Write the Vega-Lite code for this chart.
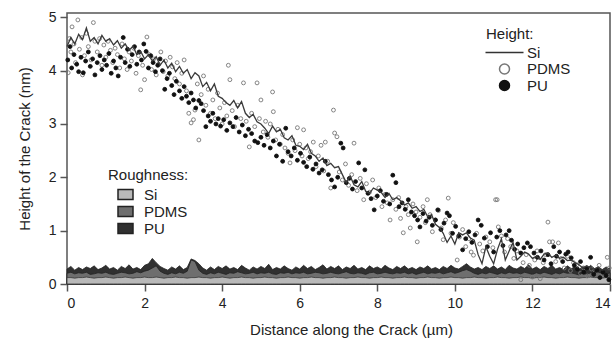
{
"$schema":"https://vega.github.io/schema/vega-lite/v6.json",
"width":543,"height":271,
"autosize":{"type":"none"},
"padding":{"left":67,"top":13,"right":4,"bottom":55},
"background":"white",
"config":{"font":"Liberation Sans","view":{"stroke":"#555","strokeWidth":1.5},
"axis":{"domain":false,"grid":false,"tickColor":"#555","tickWidth":1.5,"tickSize":7,"labelFont":"Liberation Sans","labelFontSize":14,"labelColor":"#222","titleFont":"Liberation Sans","titleFontSize":15,"titleFontWeight":"normal","titleColor":"#222"},
"legend":{"labelFont":"Liberation Sans","labelFontSize":15,"labelColor":"#222","titleFont":"Liberation Sans","titleFontSize":15,"titleFontWeight":"normal","titleColor":"#222","padding":0}},
"datasets":{
"rough":[
{"x":0.0,"rSi":0.12,"rPDMS":0.20,"rPU":0.28},{"x":0.1,"rSi":0.12,"rPDMS":0.22,"rPU":0.33},{"x":0.2,"rSi":0.11,"rPDMS":0.19,"rPU":0.26},{"x":0.3,"rSi":0.12,"rPDMS":0.21,"rPU":0.31},{"x":0.4,"rSi":0.12,"rPDMS":0.20,"rPU":0.27},{"x":0.5,"rSi":0.13,"rPDMS":0.22,"rPU":0.32},{"x":0.6,"rSi":0.12,"rPDMS":0.18,"rPU":0.29},{"x":0.7,"rSi":0.11,"rPDMS":0.19,"rPU":0.34},{"x":0.8,"rSi":0.12,"rPDMS":0.21,"rPU":0.27},{"x":0.9,"rSi":0.12,"rPDMS":0.20,"rPU":0.30},
{"x":1.0,"rSi":0.13,"rPDMS":0.22,"rPU":0.35},{"x":1.1,"rSi":0.12,"rPDMS":0.19,"rPU":0.28},{"x":1.2,"rSi":0.11,"rPDMS":0.18,"rPU":0.31},{"x":1.3,"rSi":0.12,"rPDMS":0.20,"rPU":0.26},{"x":1.4,"rSi":0.12,"rPDMS":0.22,"rPU":0.33},{"x":1.5,"rSi":0.13,"rPDMS":0.21,"rPU":0.29},{"x":1.6,"rSi":0.12,"rPDMS":0.19,"rPU":0.36},{"x":1.7,"rSi":0.11,"rPDMS":0.20,"rPU":0.28},{"x":1.8,"rSi":0.12,"rPDMS":0.23,"rPU":0.31},{"x":1.9,"rSi":0.12,"rPDMS":0.21,"rPU":0.27},
{"x":2.0,"rSi":0.13,"rPDMS":0.24,"rPU":0.35},{"x":2.1,"rSi":0.12,"rPDMS":0.26,"rPU":0.38},{"x":2.2,"rSi":0.12,"rPDMS":0.30,"rPU":0.48},{"x":2.3,"rSi":0.13,"rPDMS":0.34,"rPU":0.40},{"x":2.4,"rSi":0.12,"rPDMS":0.24,"rPU":0.33},{"x":2.5,"rSi":0.11,"rPDMS":0.20,"rPU":0.29},{"x":2.6,"rSi":0.12,"rPDMS":0.18,"rPU":0.26},{"x":2.7,"rSi":0.12,"rPDMS":0.21,"rPU":0.32},{"x":2.8,"rSi":0.13,"rPDMS":0.19,"rPU":0.28},{"x":2.9,"rSi":0.12,"rPDMS":0.22,"rPU":0.34},
{"x":3.0,"rSi":0.12,"rPDMS":0.20,"rPU":0.27},{"x":3.1,"rSi":0.11,"rPDMS":0.24,"rPU":0.31},{"x":3.2,"rSi":0.12,"rPDMS":0.45,"rPU":0.47},{"x":3.3,"rSi":0.12,"rPDMS":0.42,"rPU":0.44},{"x":3.4,"rSi":0.13,"rPDMS":0.26,"rPU":0.38},{"x":3.5,"rSi":0.12,"rPDMS":0.20,"rPU":0.30},{"x":3.6,"rSi":0.12,"rPDMS":0.18,"rPU":0.26},{"x":3.7,"rSi":0.11,"rPDMS":0.21,"rPU":0.32},{"x":3.8,"rSi":0.12,"rPDMS":0.19,"rPU":0.27},{"x":3.9,"rSi":0.12,"rPDMS":0.22,"rPU":0.33},
{"x":4.0,"rSi":0.13,"rPDMS":0.20,"rPU":0.29},{"x":4.1,"rSi":0.12,"rPDMS":0.18,"rPU":0.34},{"x":4.2,"rSi":0.11,"rPDMS":0.21,"rPU":0.28},{"x":4.3,"rSi":0.12,"rPDMS":0.20,"rPU":0.31},{"x":4.4,"rSi":0.12,"rPDMS":0.23,"rPU":0.27},{"x":4.5,"rSi":0.13,"rPDMS":0.21,"rPU":0.35},{"x":4.6,"rSi":0.12,"rPDMS":0.19,"rPU":0.30},{"x":4.7,"rSi":0.12,"rPDMS":0.20,"rPU":0.26},{"x":4.8,"rSi":0.11,"rPDMS":0.22,"rPU":0.32},{"x":4.9,"rSi":0.12,"rPDMS":0.19,"rPU":0.28},
{"x":5.0,"rSi":0.12,"rPDMS":0.21,"rPU":0.33},{"x":5.1,"rSi":0.13,"rPDMS":0.20,"rPU":0.29},{"x":5.2,"rSi":0.12,"rPDMS":0.22,"rPU":0.37},{"x":5.3,"rSi":0.12,"rPDMS":0.19,"rPU":0.27},{"x":5.4,"rSi":0.11,"rPDMS":0.18,"rPU":0.31},{"x":5.5,"rSi":0.12,"rPDMS":0.21,"rPU":0.28},{"x":5.6,"rSi":0.12,"rPDMS":0.20,"rPU":0.34},{"x":5.7,"rSi":0.13,"rPDMS":0.22,"rPU":0.29},{"x":5.8,"rSi":0.12,"rPDMS":0.19,"rPU":0.26},{"x":5.9,"rSi":0.12,"rPDMS":0.21,"rPU":0.32},
{"x":6.0,"rSi":0.11,"rPDMS":0.20,"rPU":0.28},{"x":6.1,"rSi":0.12,"rPDMS":0.22,"rPU":0.35},{"x":6.2,"rSi":0.12,"rPDMS":0.19,"rPU":0.29},{"x":6.3,"rSi":0.13,"rPDMS":0.20,"rPU":0.33},{"x":6.4,"rSi":0.12,"rPDMS":0.22,"rPU":0.27},{"x":6.5,"rSi":0.12,"rPDMS":0.21,"rPU":0.31},{"x":6.6,"rSi":0.11,"rPDMS":0.19,"rPU":0.36},{"x":6.7,"rSi":0.12,"rPDMS":0.20,"rPU":0.28},{"x":6.8,"rSi":0.12,"rPDMS":0.22,"rPU":0.33},{"x":6.9,"rSi":0.13,"rPDMS":0.20,"rPU":0.29},
{"x":7.0,"rSi":0.12,"rPDMS":0.19,"rPU":0.34},{"x":7.1,"rSi":0.12,"rPDMS":0.21,"rPU":0.27},{"x":7.2,"rSi":0.11,"rPDMS":0.23,"rPU":0.32},{"x":7.3,"rSi":0.12,"rPDMS":0.20,"rPU":0.29},{"x":7.4,"rSi":0.12,"rPDMS":0.19,"rPU":0.35},{"x":7.5,"rSi":0.13,"rPDMS":0.21,"rPU":0.28},{"x":7.6,"rSi":0.12,"rPDMS":0.20,"rPU":0.31},{"x":7.7,"rSi":0.12,"rPDMS":0.18,"rPU":0.27},{"x":7.8,"rSi":0.11,"rPDMS":0.21,"rPU":0.34},{"x":7.9,"rSi":0.12,"rPDMS":0.22,"rPU":0.29},
{"x":8.0,"rSi":0.12,"rPDMS":0.19,"rPU":0.32},{"x":8.1,"rSi":0.13,"rPDMS":0.20,"rPU":0.28},{"x":8.2,"rSi":0.12,"rPDMS":0.22,"rPU":0.35},{"x":8.3,"rSi":0.12,"rPDMS":0.20,"rPU":0.30},{"x":8.4,"rSi":0.11,"rPDMS":0.19,"rPU":0.27},{"x":8.5,"rSi":0.12,"rPDMS":0.21,"rPU":0.33},{"x":8.6,"rSi":0.12,"rPDMS":0.20,"rPU":0.29},{"x":8.7,"rSi":0.13,"rPDMS":0.22,"rPU":0.34},{"x":8.8,"rSi":0.12,"rPDMS":0.19,"rPU":0.28},{"x":8.9,"rSi":0.12,"rPDMS":0.21,"rPU":0.31},
{"x":9.0,"rSi":0.11,"rPDMS":0.18,"rPU":0.27},{"x":9.1,"rSi":0.12,"rPDMS":0.20,"rPU":0.32},{"x":9.2,"rSi":0.12,"rPDMS":0.22,"rPU":0.29},{"x":9.3,"rSi":0.13,"rPDMS":0.19,"rPU":0.34},{"x":9.4,"rSi":0.12,"rPDMS":0.21,"rPU":0.28},{"x":9.5,"rSi":0.12,"rPDMS":0.20,"rPU":0.31},{"x":9.6,"rSi":0.11,"rPDMS":0.22,"rPU":0.27},{"x":9.7,"rSi":0.12,"rPDMS":0.19,"rPU":0.33},{"x":9.8,"rSi":0.12,"rPDMS":0.21,"rPU":0.29},{"x":9.9,"rSi":0.13,"rPDMS":0.23,"rPU":0.35},
{"x":10.0,"rSi":0.12,"rPDMS":0.20,"rPU":0.30},{"x":10.1,"rSi":0.12,"rPDMS":0.22,"rPU":0.28},{"x":10.2,"rSi":0.11,"rPDMS":0.25,"rPU":0.33},{"x":10.3,"rSi":0.12,"rPDMS":0.27,"rPU":0.38},{"x":10.4,"rSi":0.12,"rPDMS":0.24,"rPU":0.32},{"x":10.5,"rSi":0.13,"rPDMS":0.20,"rPU":0.28},{"x":10.6,"rSi":0.12,"rPDMS":0.18,"rPU":0.31},{"x":10.7,"rSi":0.12,"rPDMS":0.21,"rPU":0.27},{"x":10.8,"rSi":0.11,"rPDMS":0.19,"rPU":0.33},{"x":10.9,"rSi":0.12,"rPDMS":0.22,"rPU":0.29},
{"x":11.0,"rSi":0.12,"rPDMS":0.20,"rPU":0.34},{"x":11.1,"rSi":0.13,"rPDMS":0.18,"rPU":0.28},{"x":11.2,"rSi":0.12,"rPDMS":0.21,"rPU":0.32},{"x":11.3,"rSi":0.12,"rPDMS":0.19,"rPU":0.27},{"x":11.4,"rSi":0.11,"rPDMS":0.22,"rPU":0.35},{"x":11.5,"rSi":0.12,"rPDMS":0.20,"rPU":0.30},{"x":11.6,"rSi":0.12,"rPDMS":0.21,"rPU":0.28},{"x":11.7,"rSi":0.13,"rPDMS":0.19,"rPU":0.33},{"x":11.8,"rSi":0.12,"rPDMS":0.22,"rPU":0.29},{"x":11.9,"rSi":0.12,"rPDMS":0.20,"rPU":0.36},
{"x":12.0,"rSi":0.11,"rPDMS":0.18,"rPU":0.28},{"x":12.1,"rSi":0.12,"rPDMS":0.21,"rPU":0.32},{"x":12.2,"rSi":0.12,"rPDMS":0.19,"rPU":0.27},{"x":12.3,"rSi":0.13,"rPDMS":0.22,"rPU":0.33},{"x":12.4,"rSi":0.12,"rPDMS":0.20,"rPU":0.29},{"x":12.5,"rSi":0.12,"rPDMS":0.18,"rPU":0.35},{"x":12.6,"rSi":0.11,"rPDMS":0.21,"rPU":0.28},{"x":12.7,"rSi":0.12,"rPDMS":0.19,"rPU":0.31},{"x":12.8,"rSi":0.12,"rPDMS":0.22,"rPU":0.27},{"x":12.9,"rSi":0.13,"rPDMS":0.20,"rPU":0.34},
{"x":13.0,"rSi":0.12,"rPDMS":0.21,"rPU":0.29},{"x":13.1,"rSi":0.12,"rPDMS":0.19,"rPU":0.32},{"x":13.2,"rSi":0.11,"rPDMS":0.17,"rPU":0.27},{"x":13.3,"rSi":0.12,"rPDMS":0.20,"rPU":0.33},{"x":13.4,"rSi":0.12,"rPDMS":0.18,"rPU":0.28},{"x":13.5,"rSi":0.13,"rPDMS":0.21,"rPU":0.35},{"x":13.6,"rSi":0.12,"rPDMS":0.19,"rPU":0.29},{"x":13.7,"rSi":0.12,"rPDMS":0.22,"rPU":0.31},{"x":13.8,"rSi":0.11,"rPDMS":0.20,"rPU":0.27},{"x":13.9,"rSi":0.12,"rPDMS":0.18,"rPU":0.32},{"x":14.0,"rSi":0.12,"rPDMS":0.21,"rPU":0.28}
],
"si":[
{"x":0.0,"y":4.45},{"x":0.1,"y":4.62},{"x":0.2,"y":4.50},{"x":0.3,"y":4.68},{"x":0.4,"y":4.58},{"x":0.5,"y":4.80},{"x":0.6,"y":4.55},{"x":0.7,"y":4.62},{"x":0.8,"y":4.50},{"x":0.9,"y":4.66},
{"x":1.0,"y":4.55},{"x":1.1,"y":4.60},{"x":1.2,"y":4.48},{"x":1.3,"y":4.56},{"x":1.4,"y":4.42},{"x":1.5,"y":4.50},{"x":1.6,"y":4.38},{"x":1.7,"y":4.46},{"x":1.8,"y":4.30},{"x":1.9,"y":4.36},
{"x":2.0,"y":4.22},{"x":2.1,"y":4.30},{"x":2.2,"y":4.18},{"x":2.3,"y":4.26},{"x":2.4,"y":4.10},{"x":2.5,"y":4.20},{"x":2.6,"y":4.05},{"x":2.7,"y":4.14},{"x":2.8,"y":3.98},{"x":2.9,"y":4.08},
{"x":3.0,"y":3.95},{"x":3.1,"y":4.02},{"x":3.2,"y":3.85},{"x":3.3,"y":3.96},{"x":3.4,"y":3.90},{"x":3.5,"y":3.70},{"x":3.6,"y":3.78},{"x":3.7,"y":3.62},{"x":3.8,"y":3.75},{"x":3.9,"y":3.52},
{"x":4.0,"y":3.48},{"x":4.1,"y":3.40},{"x":4.2,"y":3.35},{"x":4.3,"y":3.44},{"x":4.4,"y":3.30},{"x":4.5,"y":3.42},{"x":4.6,"y":3.20},{"x":4.7,"y":3.12},{"x":4.8,"y":3.18},{"x":4.9,"y":3.04},
{"x":5.0,"y":3.00},{"x":5.1,"y":2.92},{"x":5.2,"y":2.82},{"x":5.3,"y":2.96},{"x":5.4,"y":2.85},{"x":5.5,"y":2.90},{"x":5.6,"y":2.74},{"x":5.7,"y":2.70},{"x":5.8,"y":2.78},{"x":5.9,"y":2.60},
{"x":6.0,"y":2.58},{"x":6.1,"y":2.52},{"x":6.2,"y":2.62},{"x":6.3,"y":2.45},{"x":6.4,"y":2.40},{"x":6.5,"y":2.30},{"x":6.6,"y":2.36},{"x":6.7,"y":2.22},{"x":6.8,"y":2.26},{"x":6.9,"y":2.18},
{"x":7.0,"y":2.20},{"x":7.1,"y":2.05},{"x":7.2,"y":1.90},{"x":7.3,"y":2.02},{"x":7.4,"y":1.86},{"x":7.5,"y":1.82},{"x":7.6,"y":1.92},{"x":7.7,"y":1.74},{"x":7.8,"y":1.70},{"x":7.9,"y":1.80},
{"x":8.0,"y":1.76},{"x":8.1,"y":1.72},{"x":8.2,"y":1.62},{"x":8.3,"y":1.70},{"x":8.4,"y":1.58},{"x":8.5,"y":1.62},{"x":8.6,"y":1.56},{"x":8.7,"y":1.48},{"x":8.8,"y":1.52},{"x":8.9,"y":1.42},
{"x":9.0,"y":1.45},{"x":9.1,"y":1.36},{"x":9.2,"y":1.40},{"x":9.3,"y":1.26},{"x":9.4,"y":1.30},{"x":9.5,"y":1.12},{"x":9.6,"y":1.06},{"x":9.7,"y":0.95},{"x":9.8,"y":0.78},{"x":9.9,"y":0.90},
{"x":10.0,"y":0.75},{"x":10.1,"y":0.96},{"x":10.2,"y":0.92},{"x":10.3,"y":0.96},{"x":10.4,"y":0.86},{"x":10.5,"y":0.82},{"x":10.6,"y":0.55},{"x":10.7,"y":0.38},{"x":10.8,"y":0.70},{"x":10.9,"y":0.52},
{"x":11.0,"y":0.38},{"x":11.1,"y":0.65},{"x":11.2,"y":0.85},{"x":11.3,"y":0.45},{"x":11.4,"y":0.62},{"x":11.5,"y":0.78},{"x":11.6,"y":0.45},{"x":11.7,"y":0.52},{"x":11.8,"y":0.60},{"x":11.9,"y":0.56},
{"x":12.0,"y":0.48},{"x":12.1,"y":0.52},{"x":12.2,"y":0.46},{"x":12.3,"y":0.56},{"x":12.4,"y":0.58},{"x":12.5,"y":0.50},{"x":12.6,"y":0.54},{"x":12.7,"y":0.48},{"x":12.8,"y":0.50},{"x":12.9,"y":0.44},
{"x":13.0,"y":0.45},{"x":13.1,"y":0.40},{"x":13.2,"y":0.36},{"x":13.3,"y":0.30},{"x":13.4,"y":0.34},{"x":13.5,"y":0.30},{"x":13.6,"y":0.28},{"x":13.7,"y":0.32},{"x":13.8,"y":0.26},{"x":13.9,"y":0.28},{"x":14.0,"y":0.24}
],
"pts":[
{"x":0.03,"y":3.96,"s":"PDMS"},{"x":0.06,"y":4.60,"s":"PDMS"},{"x":0.10,"y":4.35,"s":"PDMS"},{"x":0.13,"y":4.82,"s":"PDMS"},{"x":0.18,"y":4.50,"s":"PDMS"},{"x":0.22,"y":4.15,"s":"PDMS"},{"x":0.28,"y":4.95,"s":"PDMS"},{"x":0.32,"y":4.40,"s":"PDMS"},{"x":0.38,"y":4.62,"s":"PDMS"},{"x":0.40,"y":3.92,"s":"PDMS"},
{"x":0.45,"y":4.28,"s":"PDMS"},{"x":0.50,"y":4.70,"s":"PDMS"},{"x":0.55,"y":4.45,"s":"PDMS"},{"x":0.62,"y":4.20,"s":"PDMS"},{"x":0.68,"y":4.90,"s":"PDMS"},{"x":0.72,"y":4.55,"s":"PDMS"},{"x":0.78,"y":4.35,"s":"PDMS"},{"x":0.84,"y":4.60,"s":"PDMS"},{"x":0.90,"y":4.10,"s":"PDMS"},{"x":0.95,"y":4.48,"s":"PDMS"},
{"x":1.00,"y":4.25,"s":"PDMS"},{"x":1.06,"y":4.55,"s":"PDMS"},{"x":1.12,"y":4.38,"s":"PDMS"},{"x":1.18,"y":4.15,"s":"PDMS"},{"x":1.24,"y":4.42,"s":"PDMS"},{"x":1.30,"y":4.30,"s":"PDMS"},{"x":1.36,"y":4.05,"s":"PDMS"},{"x":1.42,"y":4.50,"s":"PDMS"},{"x":1.48,"y":4.22,"s":"PDMS"},{"x":1.55,"y":4.02,"s":"PDMS"},
{"x":1.60,"y":4.35,"s":"PDMS"},{"x":1.66,"y":4.18,"s":"PDMS"},{"x":1.72,"y":4.42,"s":"PDMS"},{"x":1.78,"y":3.95,"s":"PDMS"},{"x":1.84,"y":4.28,"s":"PDMS"},{"x":1.90,"y":3.64,"s":"PDMS"},{"x":1.95,"y":4.10,"s":"PDMS"},{"x":2.00,"y":3.83,"s":"PDMS"},{"x":2.06,"y":4.63,"s":"PDMS"},{"x":2.12,"y":4.30,"s":"PDMS"},
{"x":2.18,"y":4.02,"s":"PDMS"},{"x":2.24,"y":4.22,"s":"PDMS"},{"x":2.30,"y":3.92,"s":"PDMS"},{"x":2.36,"y":4.12,"s":"PDMS"},{"x":2.42,"y":4.35,"s":"PDMS"},{"x":2.48,"y":3.98,"s":"PDMS"},{"x":2.54,"y":4.18,"s":"PDMS"},{"x":2.60,"y":3.90,"s":"PDMS"},{"x":2.66,"y":4.25,"s":"PDMS"},{"x":2.72,"y":4.07,"s":"PDMS"},
{"x":2.78,"y":3.85,"s":"PDMS"},{"x":2.84,"y":4.15,"s":"PDMS"},{"x":2.90,"y":3.75,"s":"PDMS"},{"x":2.96,"y":3.95,"s":"PDMS"},{"x":3.02,"y":4.20,"s":"PDMS"},{"x":3.08,"y":3.62,"s":"PDMS"},{"x":3.14,"y":3.20,"s":"PDMS"},{"x":3.20,"y":3.02,"s":"PDMS"},{"x":3.26,"y":3.08,"s":"PDMS"},{"x":3.30,"y":3.26,"s":"PDMS"},
{"x":3.36,"y":3.75,"s":"PDMS"},{"x":3.40,"y":2.70,"s":"PDMS"},{"x":3.46,"y":3.55,"s":"PDMS"},{"x":3.52,"y":3.90,"s":"PDMS"},{"x":3.58,"y":3.35,"s":"PDMS"},{"x":3.64,"y":3.65,"s":"PDMS"},{"x":3.70,"y":3.20,"s":"PDMS"},{"x":3.76,"y":3.45,"s":"PDMS"},{"x":3.82,"y":3.10,"s":"PDMS"},{"x":3.88,"y":3.58,"s":"PDMS"},
{"x":3.94,"y":3.30,"s":"PDMS"},{"x":4.00,"y":3.00,"s":"PDMS"},{"x":4.06,"y":3.40,"s":"PDMS"},{"x":4.12,"y":3.15,"s":"PDMS"},{"x":4.16,"y":4.10,"s":"PDMS"},{"x":4.20,"y":3.83,"s":"PDMS"},{"x":4.26,"y":3.25,"s":"PDMS"},{"x":4.32,"y":2.95,"s":"PDMS"},{"x":4.40,"y":3.35,"s":"PDMS"},{"x":4.48,"y":3.10,"s":"PDMS"},
{"x":4.55,"y":3.77,"s":"PDMS"},{"x":4.62,"y":3.05,"s":"PDMS"},{"x":4.70,"y":2.57,"s":"PDMS"},{"x":4.76,"y":3.20,"s":"PDMS"},{"x":4.84,"y":2.95,"s":"PDMS"},{"x":4.90,"y":3.77,"s":"PDMS"},{"x":4.96,"y":3.10,"s":"PDMS"},{"x":5.00,"y":3.45,"s":"PDMS"},{"x":5.06,"y":2.85,"s":"PDMS"},{"x":5.12,"y":3.05,"s":"PDMS"},
{"x":5.18,"y":2.75,"s":"PDMS"},{"x":5.24,"y":3.00,"s":"PDMS"},{"x":5.30,"y":3.60,"s":"PDMS"},{"x":5.32,"y":3.23,"s":"PDMS"},{"x":5.38,"y":2.70,"s":"PDMS"},{"x":5.44,"y":2.90,"s":"PDMS"},{"x":5.50,"y":2.62,"s":"PDMS"},{"x":5.56,"y":2.80,"s":"PDMS"},{"x":5.62,"y":2.55,"s":"PDMS"},{"x":5.70,"y":2.45,"s":"PDMS"},
{"x":5.75,"y":2.27,"s":"PDMS"},{"x":5.82,"y":2.70,"s":"PDMS"},{"x":5.88,"y":2.50,"s":"PDMS"},{"x":5.94,"y":2.93,"s":"PDMS"},{"x":6.00,"y":2.62,"s":"PDMS"},{"x":6.06,"y":2.40,"s":"PDMS"},{"x":6.10,"y":2.89,"s":"PDMS"},{"x":6.16,"y":2.55,"s":"PDMS"},{"x":6.22,"y":2.35,"s":"PDMS"},{"x":6.28,"y":2.48,"s":"PDMS"},
{"x":6.35,"y":2.66,"s":"PDMS"},{"x":6.42,"y":2.20,"s":"PDMS"},{"x":6.48,"y":2.40,"s":"PDMS"},{"x":6.55,"y":2.60,"s":"PDMS"},{"x":6.62,"y":2.12,"s":"PDMS"},{"x":6.66,"y":2.66,"s":"PDMS"},{"x":6.72,"y":2.30,"s":"PDMS"},{"x":6.80,"y":1.80,"s":"PDMS"},{"x":6.87,"y":3.26,"s":"PDMS"},{"x":6.90,"y":2.83,"s":"PDMS"},
{"x":6.96,"y":2.76,"s":"PDMS"},{"x":7.02,"y":2.10,"s":"PDMS"},{"x":7.10,"y":1.95,"s":"PDMS"},{"x":7.18,"y":2.25,"s":"PDMS"},{"x":7.26,"y":1.85,"s":"PDMS"},{"x":7.34,"y":2.05,"s":"PDMS"},{"x":7.40,"y":2.64,"s":"PDMS"},{"x":7.48,"y":1.75,"s":"PDMS"},{"x":7.56,"y":1.98,"s":"PDMS"},{"x":7.65,"y":1.58,"s":"PDMS"},
{"x":7.72,"y":1.88,"s":"PDMS"},{"x":7.80,"y":1.72,"s":"PDMS"},{"x":7.88,"y":1.95,"s":"PDMS"},{"x":7.96,"y":1.62,"s":"PDMS"},{"x":8.04,"y":1.80,"s":"PDMS"},{"x":8.12,"y":1.45,"s":"PDMS"},{"x":8.20,"y":1.68,"s":"PDMS"},{"x":8.26,"y":1.52,"s":"PDMS"},{"x":8.33,"y":1.20,"s":"PDMS"},{"x":8.40,"y":1.58,"s":"PDMS"},
{"x":8.48,"y":1.40,"s":"PDMS"},{"x":8.55,"y":1.62,"s":"PDMS"},{"x":8.60,"y":1.23,"s":"PDMS"},{"x":8.67,"y":0.96,"s":"PDMS"},{"x":8.74,"y":1.45,"s":"PDMS"},{"x":8.80,"y":1.30,"s":"PDMS"},{"x":8.85,"y":1.05,"s":"PDMS"},{"x":8.92,"y":1.50,"s":"PDMS"},{"x":9.00,"y":1.35,"s":"PDMS"},{"x":9.03,"y":0.79,"s":"PDMS"},
{"x":9.10,"y":1.25,"s":"PDMS"},{"x":9.18,"y":1.45,"s":"PDMS"},{"x":9.24,"y":1.15,"s":"PDMS"},{"x":9.29,"y":1.58,"s":"PDMS"},{"x":9.36,"y":1.30,"s":"PDMS"},{"x":9.42,"y":0.98,"s":"PDMS"},{"x":9.50,"y":1.20,"s":"PDMS"},{"x":9.58,"y":1.38,"s":"PDMS"},{"x":9.65,"y":1.05,"s":"PDMS"},{"x":9.70,"y":0.83,"s":"PDMS"},
{"x":9.76,"y":1.20,"s":"PDMS"},{"x":9.83,"y":1.61,"s":"PDMS"},{"x":9.90,"y":0.95,"s":"PDMS"},{"x":9.96,"y":1.15,"s":"PDMS"},{"x":10.06,"y":0.45,"s":"PDMS"},{"x":10.12,"y":0.88,"s":"PDMS"},{"x":10.20,"y":1.02,"s":"PDMS"},{"x":10.28,"y":0.70,"s":"PDMS"},{"x":10.36,"y":0.85,"s":"PDMS"},{"x":10.42,"y":0.60,"s":"PDMS"},
{"x":10.48,"y":0.54,"s":"PDMS"},{"x":10.56,"y":0.95,"s":"PDMS"},{"x":10.64,"y":0.75,"s":"PDMS"},{"x":10.72,"y":0.62,"s":"PDMS"},{"x":10.80,"y":0.88,"s":"PDMS"},{"x":10.90,"y":0.79,"s":"PDMS"},{"x":10.98,"y":0.68,"s":"PDMS"},{"x":11.05,"y":1.58,"s":"PDMS"},{"x":11.09,"y":1.58,"s":"PDMS"},{"x":11.12,"y":1.07,"s":"PDMS"},
{"x":11.20,"y":0.90,"s":"PDMS"},{"x":11.28,"y":0.60,"s":"PDMS"},{"x":11.36,"y":0.85,"s":"PDMS"},{"x":11.44,"y":0.70,"s":"PDMS"},{"x":11.52,"y":0.48,"s":"PDMS"},{"x":11.60,"y":0.62,"s":"PDMS"},{"x":11.70,"y":0.08,"s":"PDMS"},{"x":11.76,"y":0.40,"s":"PDMS"},{"x":11.84,"y":0.55,"s":"PDMS"},{"x":11.92,"y":0.35,"s":"PDMS"},
{"x":12.00,"y":0.13,"s":"PDMS"},{"x":12.06,"y":0.45,"s":"PDMS"},{"x":12.12,"y":0.62,"s":"PDMS"},{"x":12.20,"y":0.10,"s":"PDMS"},{"x":12.28,"y":0.40,"s":"PDMS"},{"x":12.34,"y":0.55,"s":"PDMS"},{"x":12.40,"y":1.16,"s":"PDMS"},{"x":12.44,"y":0.79,"s":"PDMS"},{"x":12.52,"y":0.79,"s":"PDMS"},{"x":12.60,"y":0.42,"s":"PDMS"},
{"x":12.67,"y":0.77,"s":"PDMS"},{"x":12.74,"y":0.48,"s":"PDMS"},{"x":12.82,"y":0.30,"s":"PDMS"},{"x":12.90,"y":0.52,"s":"PDMS"},{"x":12.98,"y":0.25,"s":"PDMS"},{"x":13.06,"y":0.40,"s":"PDMS"},{"x":13.15,"y":0.36,"s":"PDMS"},{"x":13.24,"y":0.20,"s":"PDMS"},{"x":13.32,"y":0.30,"s":"PDMS"},{"x":13.42,"y":0.15,"s":"PDMS"},
{"x":13.52,"y":0.28,"s":"PDMS"},{"x":13.62,"y":0.22,"s":"PDMS"},{"x":13.72,"y":0.35,"s":"PDMS"},{"x":13.82,"y":0.18,"s":"PDMS"},{"x":13.93,"y":0.50,"s":"PDMS"},{"x":13.98,"y":0.30,"s":"PDMS"},
{"x":0.02,"y":4.20,"s":"PU"},{"x":0.08,"y":4.45,"s":"PU"},{"x":0.12,"y":4.05,"s":"PU"},{"x":0.18,"y":4.30,"s":"PU"},{"x":0.25,"y":4.12,"s":"PU"},{"x":0.30,"y":3.98,"s":"PU"},{"x":0.36,"y":4.25,"s":"PU"},{"x":0.42,"y":3.96,"s":"PU"},{"x":0.48,"y":4.18,"s":"PU"},{"x":0.55,"y":4.35,"s":"PU"},
{"x":0.60,"y":4.08,"s":"PU"},{"x":0.66,"y":4.22,"s":"PU"},{"x":0.72,"y":3.92,"s":"PU"},{"x":0.78,"y":4.15,"s":"PU"},{"x":0.85,"y":4.28,"s":"PU"},{"x":0.90,"y":4.02,"s":"PU"},{"x":0.96,"y":4.20,"s":"PU"},{"x":1.02,"y":4.10,"s":"PU"},{"x":1.08,"y":4.32,"s":"PU"},{"x":1.14,"y":3.95,"s":"PU"},
{"x":1.20,"y":4.18,"s":"PU"},{"x":1.26,"y":4.05,"s":"PU"},{"x":1.32,"y":3.90,"s":"PU"},{"x":1.38,"y":4.25,"s":"PU"},{"x":1.45,"y":4.62,"s":"PU"},{"x":1.50,"y":4.15,"s":"PU"},{"x":1.56,"y":4.40,"s":"PU"},{"x":1.62,"y":4.08,"s":"PU"},{"x":1.68,"y":4.30,"s":"PU"},{"x":1.74,"y":4.45,"s":"PU"},
{"x":1.80,"y":4.12,"s":"PU"},{"x":1.86,"y":4.35,"s":"PU"},{"x":1.92,"y":4.20,"s":"PU"},{"x":1.98,"y":4.50,"s":"PU"},{"x":2.04,"y":4.36,"s":"PU"},{"x":2.10,"y":4.05,"s":"PU"},{"x":2.16,"y":4.28,"s":"PU"},{"x":2.22,"y":4.15,"s":"PU"},{"x":2.28,"y":3.98,"s":"PU"},{"x":2.34,"y":4.10,"s":"PU"},
{"x":2.40,"y":4.22,"s":"PU"},{"x":2.46,"y":4.00,"s":"PU"},{"x":2.52,"y":3.65,"s":"PU"},{"x":2.58,"y":3.85,"s":"PU"},{"x":2.64,"y":3.95,"s":"PU"},{"x":2.70,"y":3.72,"s":"PU"},{"x":2.76,"y":3.55,"s":"PU"},{"x":2.82,"y":3.80,"s":"PU"},{"x":2.90,"y":3.62,"s":"PU"},{"x":2.96,"y":3.48,"s":"PU"},
{"x":3.02,"y":3.70,"s":"PU"},{"x":3.08,"y":3.52,"s":"PU"},{"x":3.14,"y":3.40,"s":"PU"},{"x":3.20,"y":3.58,"s":"PU"},{"x":3.26,"y":3.45,"s":"PU"},{"x":3.32,"y":3.30,"s":"PU"},{"x":3.40,"y":3.44,"s":"PU"},{"x":3.46,"y":3.38,"s":"PU"},{"x":3.52,"y":3.25,"s":"PU"},{"x":3.58,"y":2.95,"s":"PU"},
{"x":3.64,"y":3.15,"s":"PU"},{"x":3.70,"y":3.05,"s":"PU"},{"x":3.76,"y":3.20,"s":"PU"},{"x":3.84,"y":3.00,"s":"PU"},{"x":3.90,"y":3.10,"s":"PU"},{"x":3.96,"y":2.96,"s":"PU"},{"x":4.04,"y":3.08,"s":"PU"},{"x":4.12,"y":2.88,"s":"PU"},{"x":4.20,"y":3.02,"s":"PU"},{"x":4.28,"y":2.95,"s":"PU"},
{"x":4.36,"y":3.12,"s":"PU"},{"x":4.44,"y":2.85,"s":"PU"},{"x":4.52,"y":2.98,"s":"PU"},{"x":4.60,"y":2.78,"s":"PU"},{"x":4.68,"y":2.90,"s":"PU"},{"x":4.76,"y":2.82,"s":"PU"},{"x":4.84,"y":2.68,"s":"PU"},{"x":4.92,"y":2.65,"s":"PU"},{"x":5.00,"y":2.75,"s":"PU"},{"x":5.08,"y":2.60,"s":"PU"},
{"x":5.16,"y":2.80,"s":"PU"},{"x":5.24,"y":2.55,"s":"PU"},{"x":5.32,"y":2.68,"s":"PU"},{"x":5.40,"y":2.40,"s":"PU"},{"x":5.48,"y":2.62,"s":"PU"},{"x":5.56,"y":2.30,"s":"PU"},{"x":5.64,"y":2.92,"s":"PU"},{"x":5.70,"y":2.48,"s":"PU"},{"x":5.78,"y":2.40,"s":"PU"},{"x":5.86,"y":2.55,"s":"PU"},
{"x":5.94,"y":2.32,"s":"PU"},{"x":6.02,"y":2.45,"s":"PU"},{"x":6.10,"y":2.28,"s":"PU"},{"x":6.18,"y":2.20,"s":"PU"},{"x":6.26,"y":2.38,"s":"PU"},{"x":6.34,"y":2.15,"s":"PU"},{"x":6.42,"y":2.25,"s":"PU"},{"x":6.50,"y":2.08,"s":"PU"},{"x":6.58,"y":2.14,"s":"PU"},{"x":6.66,"y":2.30,"s":"PU"},
{"x":6.74,"y":2.05,"s":"PU"},{"x":6.82,"y":1.95,"s":"PU"},{"x":6.90,"y":1.82,"s":"PU"},{"x":6.98,"y":2.00,"s":"PU"},{"x":7.06,"y":2.64,"s":"PU"},{"x":7.12,"y":2.55,"s":"PU"},{"x":7.20,"y":1.90,"s":"PU"},{"x":7.28,"y":1.98,"s":"PU"},{"x":7.36,"y":1.78,"s":"PU"},{"x":7.44,"y":1.92,"s":"PU"},
{"x":7.52,"y":2.27,"s":"PU"},{"x":7.60,"y":1.80,"s":"PU"},{"x":7.68,"y":2.14,"s":"PU"},{"x":7.76,"y":1.70,"s":"PU"},{"x":7.84,"y":1.60,"s":"PU"},{"x":7.92,"y":1.39,"s":"PU"},{"x":8.00,"y":1.65,"s":"PU"},{"x":8.08,"y":1.75,"s":"PU"},{"x":8.16,"y":1.55,"s":"PU"},{"x":8.24,"y":1.68,"s":"PU"},
{"x":8.32,"y":1.50,"s":"PU"},{"x":8.40,"y":2.04,"s":"PU"},{"x":8.48,"y":1.90,"s":"PU"},{"x":8.56,"y":1.45,"s":"PU"},{"x":8.64,"y":1.52,"s":"PU"},{"x":8.72,"y":1.40,"s":"PU"},{"x":8.80,"y":1.58,"s":"PU"},{"x":8.88,"y":1.35,"s":"PU"},{"x":8.96,"y":1.28,"s":"PU"},{"x":9.04,"y":1.20,"s":"PU"},
{"x":9.10,"y":1.07,"s":"PU"},{"x":9.18,"y":1.32,"s":"PU"},{"x":9.26,"y":1.18,"s":"PU"},{"x":9.34,"y":1.25,"s":"PU"},{"x":9.42,"y":1.10,"s":"PU"},{"x":9.50,"y":1.20,"s":"PU"},{"x":9.56,"y":1.39,"s":"PU"},{"x":9.64,"y":1.02,"s":"PU"},{"x":9.72,"y":1.14,"s":"PU"},{"x":9.80,"y":1.33,"s":"PU"},
{"x":9.86,"y":1.28,"s":"PU"},{"x":9.94,"y":0.95,"s":"PU"},{"x":10.02,"y":1.08,"s":"PU"},{"x":10.10,"y":0.90,"s":"PU"},{"x":10.20,"y":0.64,"s":"PU"},{"x":10.28,"y":0.85,"s":"PU"},{"x":10.36,"y":0.98,"s":"PU"},{"x":10.44,"y":0.78,"s":"PU"},{"x":10.52,"y":0.92,"s":"PU"},{"x":10.60,"y":1.20,"s":"PU"},
{"x":10.68,"y":1.10,"s":"PU"},{"x":10.76,"y":0.86,"s":"PU"},{"x":10.84,"y":0.70,"s":"PU"},{"x":10.92,"y":0.96,"s":"PU"},{"x":11.00,"y":0.60,"s":"PU"},{"x":11.08,"y":0.88,"s":"PU"},{"x":11.16,"y":1.00,"s":"PU"},{"x":11.24,"y":0.72,"s":"PU"},{"x":11.32,"y":0.92,"s":"PU"},{"x":11.40,"y":1.00,"s":"PU"},
{"x":11.46,"y":0.82,"s":"PU"},{"x":11.54,"y":0.65,"s":"PU"},{"x":11.62,"y":0.75,"s":"PU"},{"x":11.70,"y":0.58,"s":"PU"},{"x":11.78,"y":0.68,"s":"PU"},{"x":11.87,"y":0.77,"s":"PU"},{"x":11.95,"y":0.70,"s":"PU"},{"x":12.04,"y":0.58,"s":"PU"},{"x":12.13,"y":0.50,"s":"PU"},{"x":12.22,"y":0.62,"s":"PU"},
{"x":12.30,"y":0.45,"s":"PU"},{"x":12.40,"y":0.55,"s":"PU"},{"x":12.48,"y":0.38,"s":"PU"},{"x":12.55,"y":0.70,"s":"PU"},{"x":12.62,"y":0.52,"s":"PU"},{"x":12.70,"y":0.60,"s":"PU"},{"x":12.78,"y":0.42,"s":"PU"},{"x":12.86,"y":0.56,"s":"PU"},{"x":12.92,"y":0.60,"s":"PU"},{"x":13.00,"y":0.49,"s":"PU"},
{"x":13.08,"y":0.35,"s":"PU"},{"x":13.16,"y":0.28,"s":"PU"},{"x":13.24,"y":0.42,"s":"PU"},{"x":13.32,"y":0.22,"s":"PU"},{"x":13.40,"y":0.30,"s":"PU"},{"x":13.50,"y":0.50,"s":"PU"},{"x":13.58,"y":0.18,"s":"PU"},{"x":13.66,"y":0.26,"s":"PU"},{"x":13.74,"y":0.12,"s":"PU"},{"x":13.82,"y":0.22,"s":"PU"},
{"x":13.90,"y":0.16,"s":"PU"},{"x":13.97,"y":0.08,"s":"PU"}
]},
"layer":[
{"data":{"name":"rough"},"transform":[{"fold":["rSi","rPDMS","rPU"],"as":["rs","r"]},{"filter":"datum.rs==='rPU'"}],
 "mark":{"type":"area","stroke":"#222","strokeWidth":0.8,"opacity":1},
 "encoding":{
  "x":{"field":"x","type":"quantitative","scale":{"domain":[0,14],"nice":false,"zero":false},"axis":{"values":[0,2,4,6,8,10,12,14],"title":"Distance along the Crack (µm)","labelPadding":5,"titlePadding":12,"titleX":284}},
  "y":{"field":"r","type":"quantitative","stack":null,"scale":{"domain":[0,5.08],"nice":false},"axis":{"values":[0,1,2,3,4,5],"title":"Height of the Crack (nm)","labelPadding":4,"titlePadding":16}},
  "color":{"field":"rs","type":"nominal","scale":{"domain":["rSi","rPDMS","rPU"],"range":["#b9b9b9","#6e6e6e","#303030"]},
   "legend":{"title":"Roughness:","orient":"none","legendX":41,"legendY":155,"direction":"vertical","symbolType":"M-1,-0.67H1V0.67H-1Z","symbolSize":225,"symbolOffset":9,"labelOffset":10,"titlePadding":3,"rowPadding":-1,"symbolOpacity":1,"labelExpr":"slice(datum.label,1)",
    "encode":{"symbols":{"update":{"stroke":{"value":"#222"},"strokeWidth":{"value":1}}}}}}
 }},
{"data":{"name":"rough"},"transform":[{"fold":["rSi","rPDMS","rPU"],"as":["rs","r"]},{"filter":"datum.rs==='rPDMS'"}],
 "mark":{"type":"area","stroke":"#222","strokeWidth":0.8,"opacity":1},
 "encoding":{"x":{"field":"x","type":"quantitative"},"y":{"field":"r","type":"quantitative","stack":null},"color":{"field":"rs","type":"nominal"}}},
{"data":{"name":"rough"},"transform":[{"fold":["rSi","rPDMS","rPU"],"as":["rs","r"]},{"filter":"datum.rs==='rSi'"}],
 "mark":{"type":"area","stroke":"#333","strokeWidth":0.8,"opacity":1},
 "encoding":{"x":{"field":"x","type":"quantitative"},"y":{"field":"r","type":"quantitative","stack":null},"color":{"field":"rs","type":"nominal"}}},
{"data":{"name":"pts"},
 "mark":{"type":"point","filled":true,"size":15,"strokeWidth":0.9,"opacity":1},
 "encoding":{"x":{"field":"x","type":"quantitative"},"y":{"field":"y","type":"quantitative"},
  "shape":{"field":"s","type":"nominal","title":"Height:","scale":{"domain":["Si","PDMS","PU"],"range":["M-3.8,0H3.8","circle","circle"]},
   "legend":{"title":"Height:","orient":"none","legendX":419,"legendY":14,"direction":"vertical","symbolOffset":11,"labelOffset":15,"titlePadding":3,"rowPadding":-0.5,"symbolStrokeWidth":1.5,
    "encode":{"symbols":{"update":{"size":{"value":64}}}}}},
  "fill":{"field":"s","type":"nominal","title":"Height:","scale":{"domain":["Si","PDMS","PU"],"range":["#333","transparent","#111"]}},
  "stroke":{"field":"s","type":"nominal","title":"Height:","scale":{"domain":["Si","PDMS","PU"],"range":["#333","#777","#111"]}}
 }},
{"data":{"name":"si"},
 "mark":{"type":"line","color":"#3a3a3a","strokeWidth":1.3},
 "encoding":{"x":{"field":"x","type":"quantitative"},"y":{"field":"y","type":"quantitative"}}}
]
}
